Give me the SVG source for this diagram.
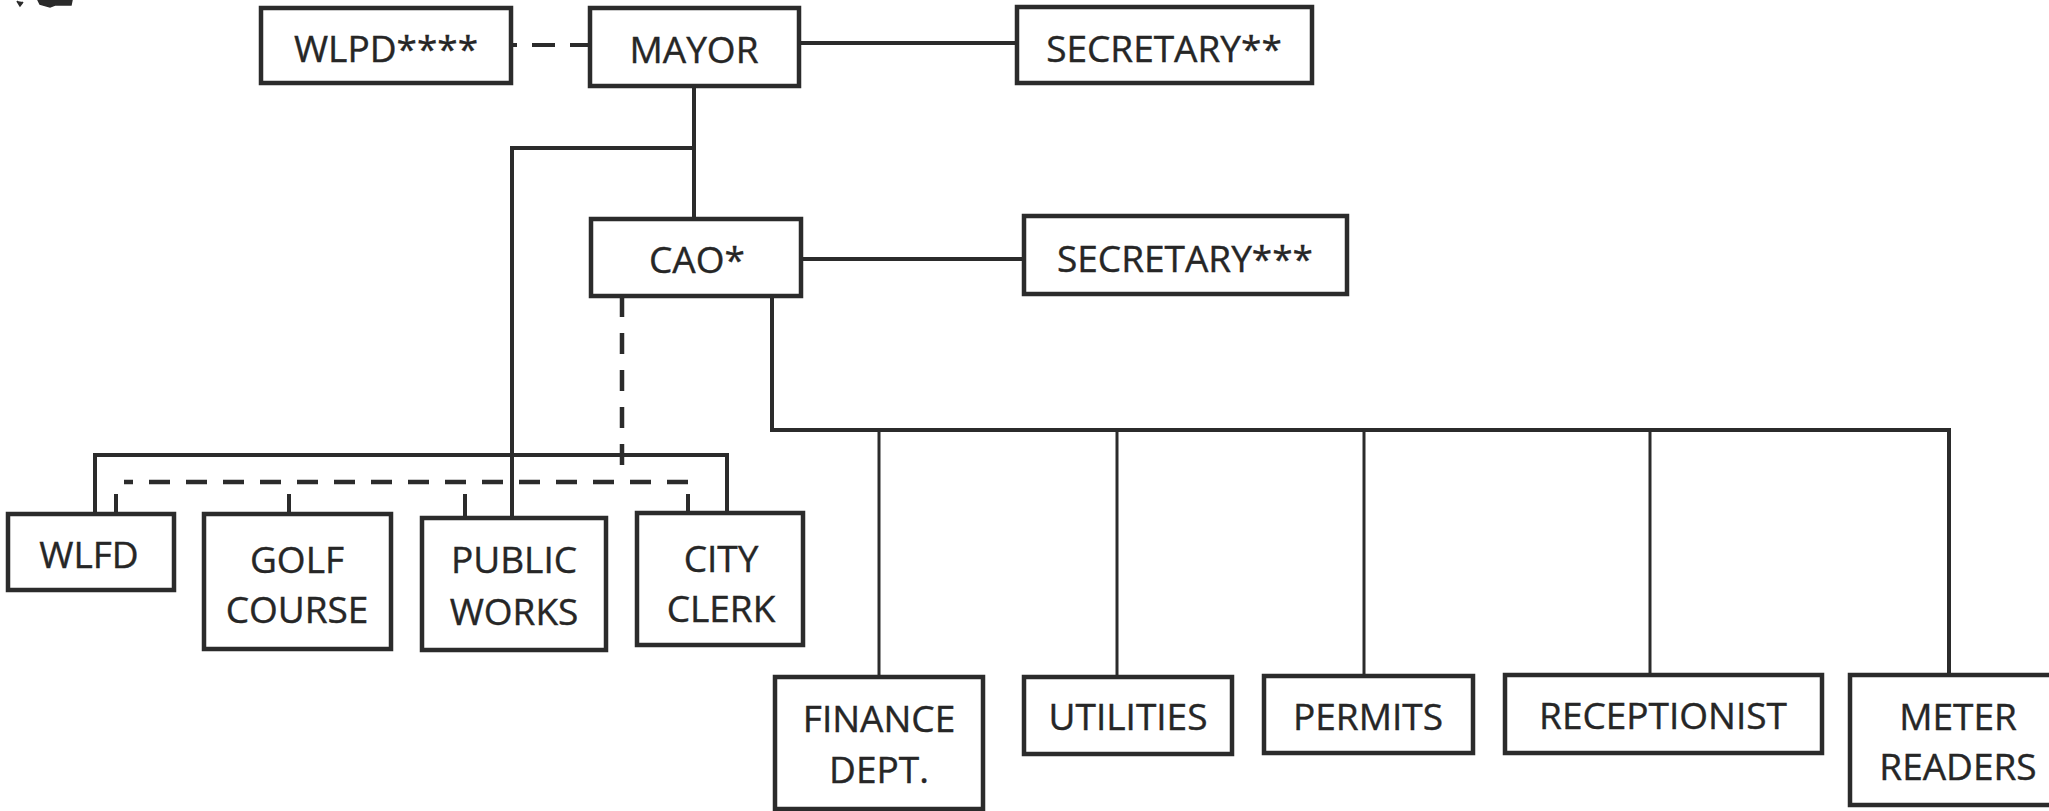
<svg xmlns="http://www.w3.org/2000/svg" width="2049" height="811" viewBox="0 0 2049 811">
<style>
.box{fill:#fff;stroke:#2b2b2b;stroke-width:4.5}
.t{font-family:"Open Sans","Liberation Sans",sans-serif;font-size:37px;fill:#262626;stroke:#262626;stroke-width:0.4;text-anchor:middle}
.c{fill:none;stroke:#2b2b2b;stroke-width:4}
.thin{fill:none;stroke:#2b2b2b;stroke-width:3}
.d{fill:none;stroke:#2b2b2b;stroke-width:4.5;stroke-dasharray:21 16}
</style>
<rect width="2049" height="811" fill="#fff"/>
<path d="M17,1 L20,6 L23,2 M38,0 L72,0 L71,5 L55,5 L50,7 L40,4 Z" fill="#2b2b2b" stroke="#2b2b2b" stroke-width="1.5"/>
<g id="connectors">
<line class="c" x1="511" y1="45" x2="590" y2="45" stroke-dasharray="6 15 23 15 25" stroke-width="4.5"/>
<line class="c" x1="799" y1="43" x2="1017" y2="43"/>
<line class="c" x1="694" y1="86" x2="694" y2="219"/>
<polyline class="c" points="694,148 512,148 512,518"/>
<line class="c" x1="802" y1="259" x2="1024" y2="259"/>
<line class="d" x1="622" y1="296" x2="622" y2="467"/>
<polyline class="c" points="772,296 772,430 1949,430 1949,675"/>
<line class="thin" x1="879" y1="430" x2="879" y2="677"/>
<line class="thin" x1="1117" y1="430" x2="1117" y2="677"/>
<line class="thin" x1="1364" y1="430" x2="1364" y2="676"/>
<line class="thin" x1="1650" y1="430" x2="1650" y2="675"/>
<polyline class="c" points="95,514 95,455 727,455 727,513"/>
<line class="d" x1="688" y1="482" x2="124" y2="482"/>
<line class="c" x1="116" y1="494" x2="116" y2="514"/>
<line class="c" x1="289" y1="494" x2="289" y2="514"/>
<line class="c" x1="465" y1="494" x2="465" y2="518"/>
<line class="c" x1="688" y1="494" x2="688" y2="513"/>
</g>
<g id="wlpd"><rect class="box" x="261" y="8" width="250" height="75"/><text class="t" x="386" y="62">WLPD****</text></g>
<g id="mayor"><rect class="box" x="590" y="8" width="209" height="78"/><text class="t" x="694" y="63">MAYOR</text></g>
<g id="secretary2"><rect class="box" x="1017" y="7" width="295" height="76"/><text class="t" x="1164" y="62">SECRETARY**</text></g>
<g id="cao"><rect class="box" x="591" y="219" width="210" height="77"/><text class="t" x="697" y="273">CAO*</text></g>
<g id="secretary3"><rect class="box" x="1024" y="216" width="323" height="78"/><text class="t" x="1185" y="272">SECRETARY***</text></g>
<g id="wlfd"><rect class="box" x="8" y="514" width="166" height="76"/><text class="t" x="89" y="568">WLFD</text></g>
<g id="golf"><rect class="box" x="204" y="514" width="187" height="135"/><text class="t" x="297" y="573">GOLF</text><text class="t" x="297" y="623">COURSE</text></g>
<g id="publicworks"><rect class="box" x="422" y="518" width="184" height="132"/><text class="t" x="514" y="573">PUBLIC</text><text class="t" x="514" y="625">WORKS</text></g>
<g id="cityclerk"><rect class="box" x="637" y="513" width="166" height="132"/><text class="t" x="721" y="572">CITY</text><text class="t" x="721" y="622">CLERK</text></g>
<g id="finance"><rect class="box" x="775" y="677" width="208" height="132"/><text class="t" x="879" y="732">FINANCE</text><text class="t" x="879" y="783">DEPT.</text></g>
<g id="utilities"><rect class="box" x="1024" y="677" width="208" height="77"/><text class="t" x="1128" y="730">UTILITIES</text></g>
<g id="permits"><rect class="box" x="1264" y="676" width="209" height="77"/><text class="t" x="1368" y="730">PERMITS</text></g>
<g id="receptionist"><rect class="box" x="1505" y="675" width="317" height="78"/><text class="t" x="1663" y="729">RECEPTIONIST</text></g>
<g id="meterreaders"><rect class="box" x="1850" y="675" width="216" height="130"/><text class="t" x="1958" y="730">METER</text><text class="t" x="1958" y="780">READERS</text></g>
</svg>
